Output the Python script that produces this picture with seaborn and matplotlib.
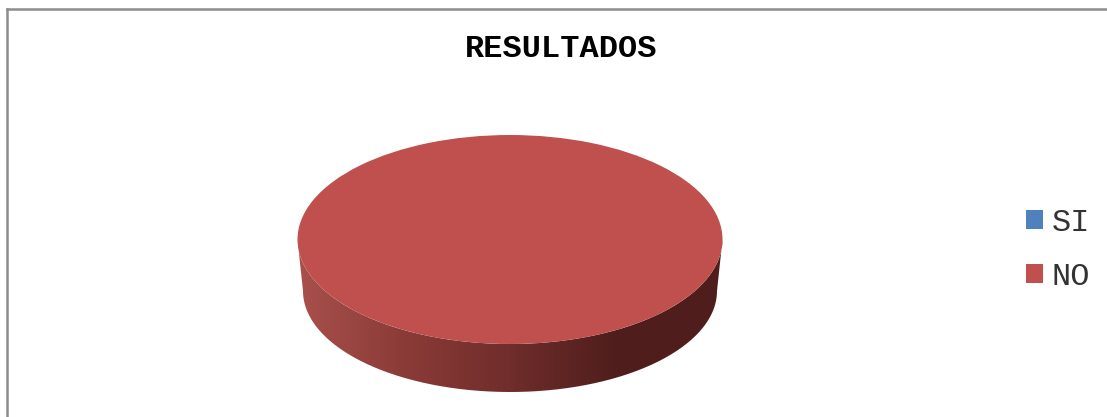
import numpy as np
import matplotlib
matplotlib.use("Agg")
import matplotlib.pyplot as plt
from matplotlib.patches import PathPatch, Patch
from matplotlib.path import Path
import seaborn as sns

categories = ["SI", "NO"]
values = [0, 100]
slice_colors = ["#4f81bd", "#c0504d"]
wall_stops = ["#a8504c", "#8b3b37", "#6f2d2b", "#4f1e1c", "#4f1e1c"]
chart_title = "RESULTADOS"

sns.set_theme(style="white")
plt.rcParams["font.family"] = ["Liberation Mono", "DejaVu Sans"]

W, H = 1107, 417
fig = plt.figure(figsize=(W / 100, H / 100), dpi=100, facecolor="white")

# Canvas in pixel units, with only the left and top frame lines visible
frame_x, frame_y = 7, 9
ax = fig.add_axes([frame_x / W, 0, 1 - frame_x / W, (H - frame_y) / H])
ax.set_xlim(frame_x, W)
ax.set_ylim(H, frame_y)
ax.set_xticks([])
ax.set_yticks([])
for side in ("right", "bottom"):
    ax.spines[side].set_visible(False)
for side in ("left", "top"):
    ax.spines[side].set_color("#8c8c8c")
    ax.spines[side].set_linewidth(1.8)

# Disc geometry: top face and a slightly narrower base give the perspective
cx = 510
top_cy, top_rx, top_ry = 239.5, 212.5, 104.5
base_cy, base_rx, base_ry = 291, 207, 101

# Side wall, shaded left to right and clipped to the outline of the drum
theta = np.linspace(np.pi, 0, 200)
lower_x = cx + base_rx * np.cos(theta)
lower_y = base_cy + base_ry * np.sin(theta)
upper_x = cx + top_rx * np.cos(theta[::-1])
upper_y = top_cy + top_ry * np.sin(theta[::-1])
outline = np.column_stack([np.r_[lower_x, upper_x], np.r_[lower_y, upper_y]])
wall = PathPatch(Path(np.vstack([outline, outline[0]])), transform=ax.transData,
                 facecolor="none", edgecolor="none")
ax.add_patch(wall)
wall_cmap = sns.blend_palette(wall_stops, n_colors=256, as_cmap=True)
gradient = np.linspace(0, 1, 256)[None, :]
image = ax.imshow(gradient, cmap=wall_cmap, aspect="auto",
                  extent=[cx - top_rx, cx + top_rx, base_cy + base_ry, top_cy],
                  zorder=1)
image.set_clip_path(wall)
ax.set_xlim(frame_x, W)
ax.set_ylim(H, frame_y)

# Top face: a regular pie stretched to the ellipse by its own axes box
pie_ax = fig.add_axes([(cx - top_rx) / W, (H - top_cy - top_ry) / H,
                       2 * top_rx / W, 2 * top_ry / H])
pie_ax.pie(values, colors=slice_colors, radius=1, startangle=90,
           counterclock=False, wedgeprops={"linewidth": 0})
pie_ax.set_aspect("auto")
pie_ax.set_xlim(-1, 1)
pie_ax.set_ylim(-1, 1)
pie_ax.patch.set_alpha(0)

ax.text(561, 48.5, chart_title, ha="center", va="center", fontsize=23,
        fontweight="bold", color="black")

handles = [Patch(facecolor=c, edgecolor="none", label=n)
           for c, n in zip(slice_colors, categories)]
ax.legend(handles=handles, loc="center left", frameon=False,
          bbox_to_anchor=(1026, 250), bbox_transform=ax.transData,
          prop={"size": 23}, handlelength=0.53, handleheight=0.53,
          handletextpad=0.28, labelspacing=0.74, borderpad=0, borderaxespad=0,
          labelcolor="#333333")

fig.savefig("out.png", dpi=100, facecolor="white")
